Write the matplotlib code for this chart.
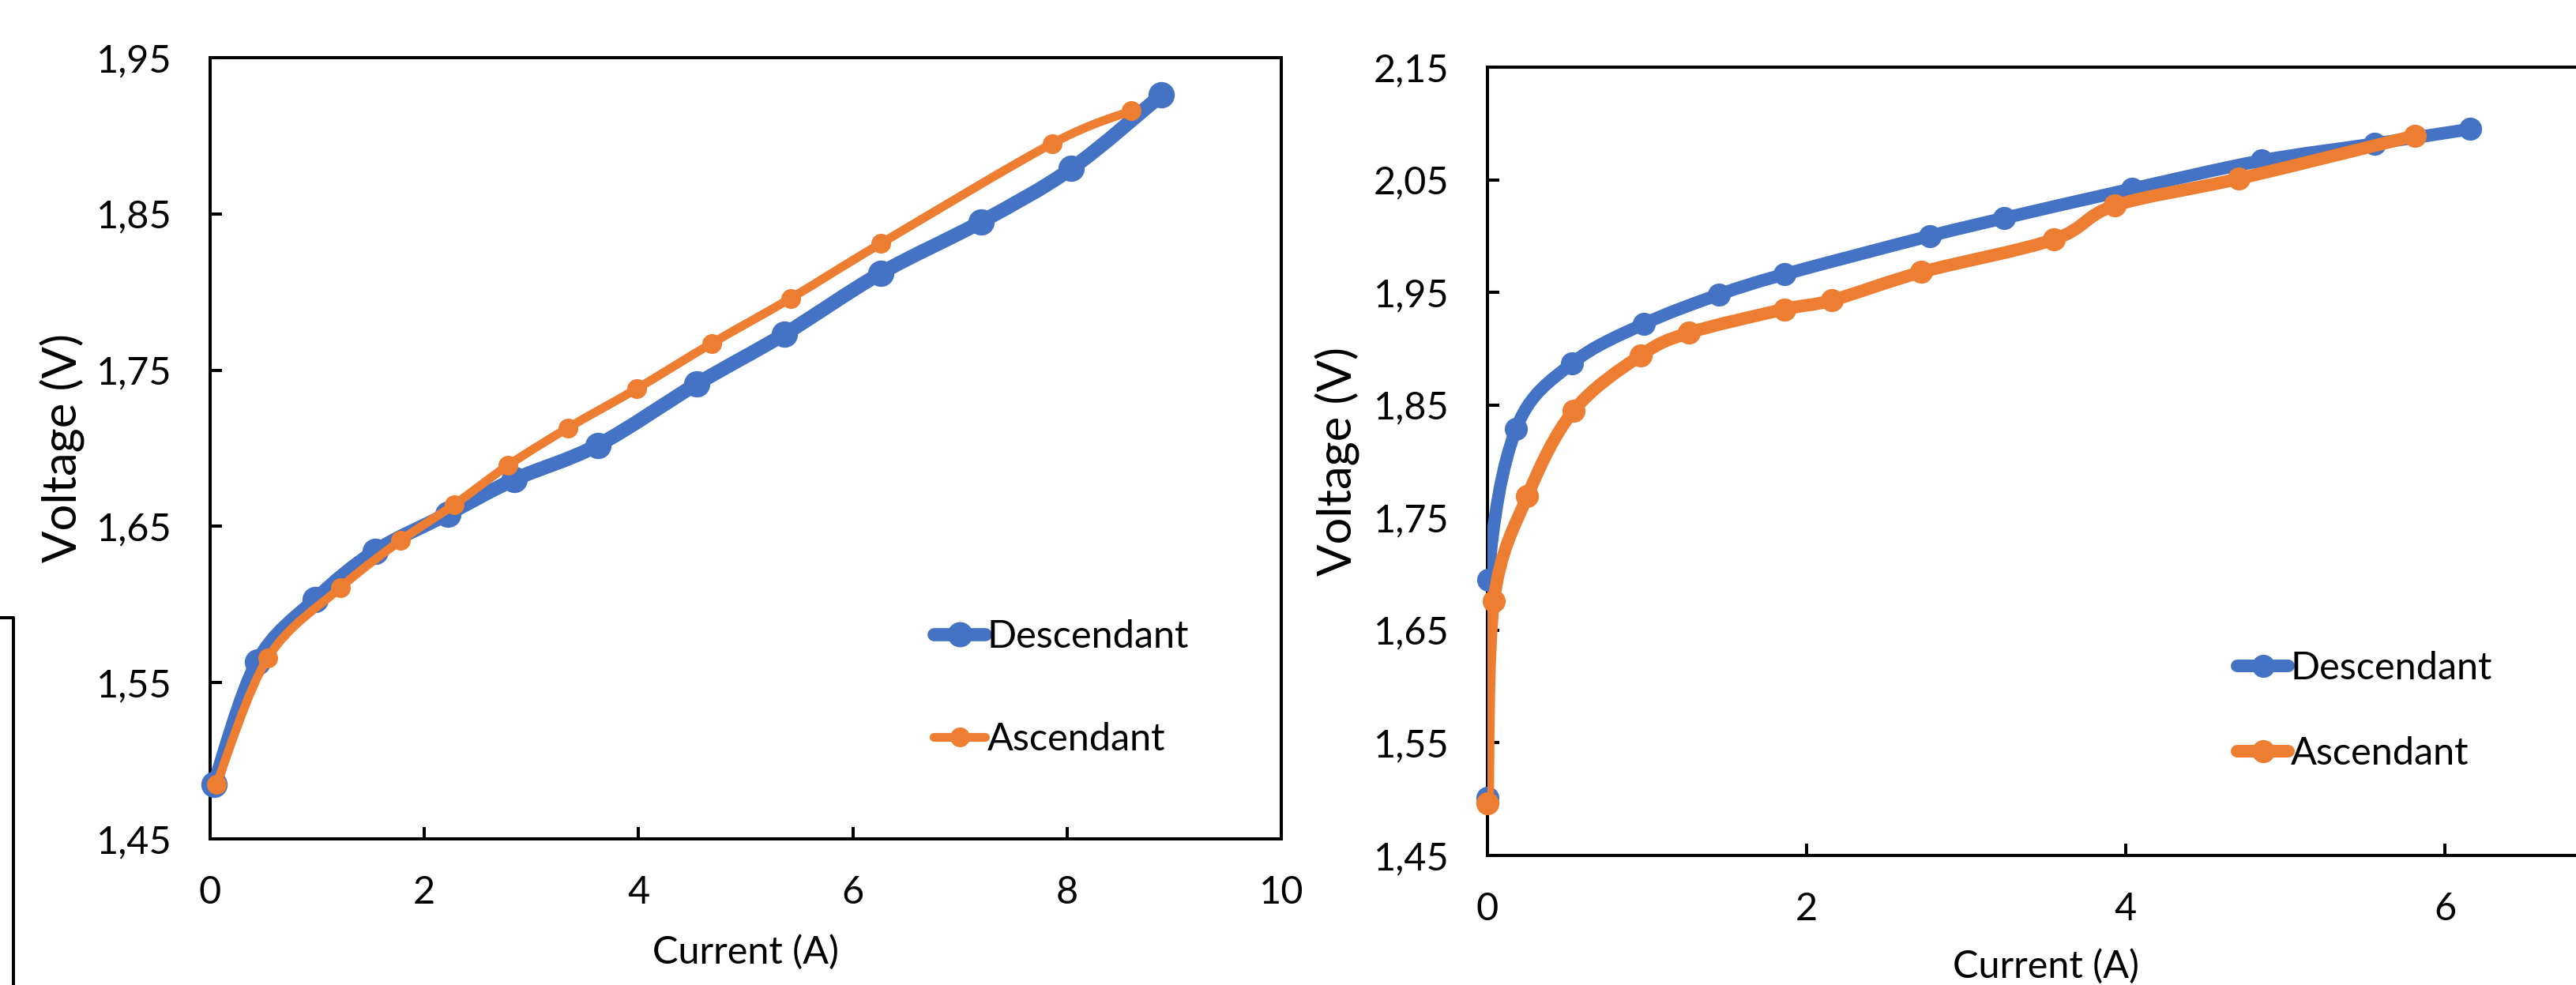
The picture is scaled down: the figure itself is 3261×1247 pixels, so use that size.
import numpy as np
import matplotlib
matplotlib.use('Agg')
import matplotlib.pyplot as plt
from matplotlib.path import Path
from matplotlib.patches import PathPatch
from matplotlib.lines import Line2D


# values
left_desc_current = [0.04, 0.44, 0.98, 1.54, 2.22, 2.84, 3.62, 4.54, 5.36, 6.26, 7.20, 8.04, 8.88]
left_desc_voltage = [1.485, 1.563, 1.603, 1.634, 1.658, 1.680, 1.702, 1.741, 1.773, 1.812, 1.845, 1.879, 1.926]
left_asc_current = [0.06, 0.54, 1.22, 1.78, 2.28, 2.78, 3.34, 3.98, 4.68, 5.42, 6.26, 7.86, 8.60]
left_asc_voltage = [1.485, 1.566, 1.611, 1.641, 1.664, 1.689, 1.713, 1.738, 1.767, 1.796, 1.831, 1.895, 1.916]

right_desc_current = [0.00, 0.005, 0.18, 0.53, 0.98, 1.45, 1.86, 2.77, 3.24, 4.04, 4.85, 5.56, 6.16]
right_desc_voltage = [1.501, 1.695, 1.829, 1.887, 1.922, 1.948, 1.966, 2.000, 2.016, 2.042, 2.067, 2.082, 2.095]
right_asc_current = [0.00, 0.04, 0.25, 0.54, 0.96, 1.26, 1.86, 2.16, 2.72, 3.55, 3.93, 4.71, 5.81]
right_asc_voltage = [1.496, 1.676, 1.769, 1.845, 1.894, 1.914, 1.935, 1.943, 1.968, 1.997, 2.027, 2.051, 2.089]

left_xticks = [0, 2, 4, 6, 8, 10]
left_yticks = [1.45, 1.55, 1.65, 1.75, 1.85, 1.95]
left_ytick_labels = ['1,45', '1,55', '1,65', '1,75', '1,85', '1,95']
right_xticks = [0, 2, 4, 6]
right_yticks = [1.45, 1.55, 1.65, 1.75, 1.85, 1.95, 2.05, 2.15]
right_ytick_labels = ['1,45', '1,55', '1,65', '1,75', '1,85', '1,95', '2,05', '2,15']

series_names = ['Descendant', 'Ascendant']
BLUE = '#4472C4'
ORANGE = '#ED7D31'


# excel-like smoothed line: cubic bezier segments through the points
def smooth_path(xs, ys):
    pts = np.column_stack([xs, ys])
    n = len(pts)
    verts = [pts[0]]
    codes = [Path.MOVETO]
    for i in range(n - 1):
        p0 = pts[max(i - 1, 0)]
        p1 = pts[i]
        p2 = pts[i + 1]
        p3 = pts[min(i + 2, n - 1)]
        verts += [p1 + (p2 - p0) / 6, p2 - (p3 - p1) / 6, p2]
        codes += [Path.CURVE4] * 3
    return Path(verts, codes)


def draw_series(ax, xs, ys, color, lw, ms, z):
    patch = PathPatch(smooth_path(xs, ys), fill=False, edgecolor=color, lw=lw,
                      capstyle='round', joinstyle='round', zorder=z)
    ax.add_patch(patch)
    ax.plot(xs, ys, 'o', color=color, ms=ms, mec=color, zorder=z + 0.5, clip_on=False)


def style_axes(ax, xticks, yticks, ylabels, xlim, ylim):
    ax.set_xlim(xlim)
    ax.set_ylim(ylim)
    ax.set_xticks(xticks)
    ax.set_xticklabels([str(t) for t in xticks])
    ax.set_yticks(yticks)
    ax.set_yticklabels(ylabels)
    for s in ax.spines.values():
        s.set_linewidth(2.9)
        s.set_color('black')
    ax.tick_params(direction='in', length=10.8, width=2.9, labelsize=35)
    ax.tick_params(axis='x', pad=33)
    ax.tick_params(axis='y', pad=35)
    for lab in ax.get_xticklabels() + ax.get_yticklabels():
        lab.set_fontfamily('Lato')
    ax.set_xlabel('Current (A)', fontsize=35, fontfamily='Lato')
    ax.set_ylabel('Voltage (V)', fontsize=43, fontfamily='Lato')


fig = plt.figure(figsize=(32.61, 12.47), dpi=100)

# left chart
ax1 = fig.add_axes([0.08157, 0.14836, 0.41582, 0.79310])
draw_series(ax1, left_desc_current, left_desc_voltage, BLUE, 13, 23, 3)
draw_series(ax1, left_asc_current, left_asc_voltage, ORANGE, 8, 17, 4)
style_axes(ax1, left_xticks, left_yticks, left_ytick_labels, (0, 10), (1.45, 1.95))
ax1.xaxis.set_label_coords(0.5, -0.122)
ax1.yaxis.set_label_coords(-0.1165, 0.5)

h1 = [Line2D([], [], color=BLUE, lw=12, marker='o', ms=22, solid_capstyle='round'),
      Line2D([], [], color=ORANGE, lw=8, marker='o', ms=17, solid_capstyle='round')]
ax1.legend(h1, series_names, loc='center left', bbox_to_anchor=(1182 / 3261, 1 - 871 / 1247),
           bbox_transform=fig.transFigure, frameon=False, borderpad=0, borderaxespad=0,
           handlelength=1.34, handletextpad=0.05, labelspacing=1.75, numpoints=1,
           prop={'family': 'Lato', 'size': 35})

# right chart (runs off the right edge of the picture)
ax2 = fig.add_axes([0.57743, 0.13152, 0.43361, 0.80032])
draw_series(ax2, right_desc_current, right_desc_voltage, BLUE, 11.5, 20, 3)
draw_series(ax2, right_asc_current, right_asc_voltage, ORANGE, 11.5, 20, 4)
style_axes(ax2, right_xticks, right_yticks, right_ytick_labels, (0, 7), (1.45, 2.15))
ax2.xaxis.set_label_coords(0.5, -0.118)
ax2.yaxis.set_label_coords(-0.1139, 0.5)

h2 = [Line2D([], [], color=BLUE, lw=11.5, marker='o', ms=20, solid_capstyle='round'),
      Line2D([], [], color=ORANGE, lw=11.5, marker='o', ms=20, solid_capstyle='round')]
ax2.legend(h2, series_names, loc='center left', bbox_to_anchor=(2832 / 3261, 1 - 900 / 1247),
           bbox_transform=fig.transFigure, frameon=False, borderpad=0, borderaxespad=0,
           handlelength=1.34, handletextpad=0.05, labelspacing=1.3, numpoints=1,
           prop={'family': 'Lato', 'size': 35})

# edge of a neighbouring box cut off at the left of the picture
fig.add_artist(Line2D([0, 17 / 3261, 17 / 3261], [1 - 782 / 1247, 1 - 782 / 1247, 0],
                      transform=fig.transFigure, color='black', lw=2.9))

fig.savefig('out.png', dpi=100)
